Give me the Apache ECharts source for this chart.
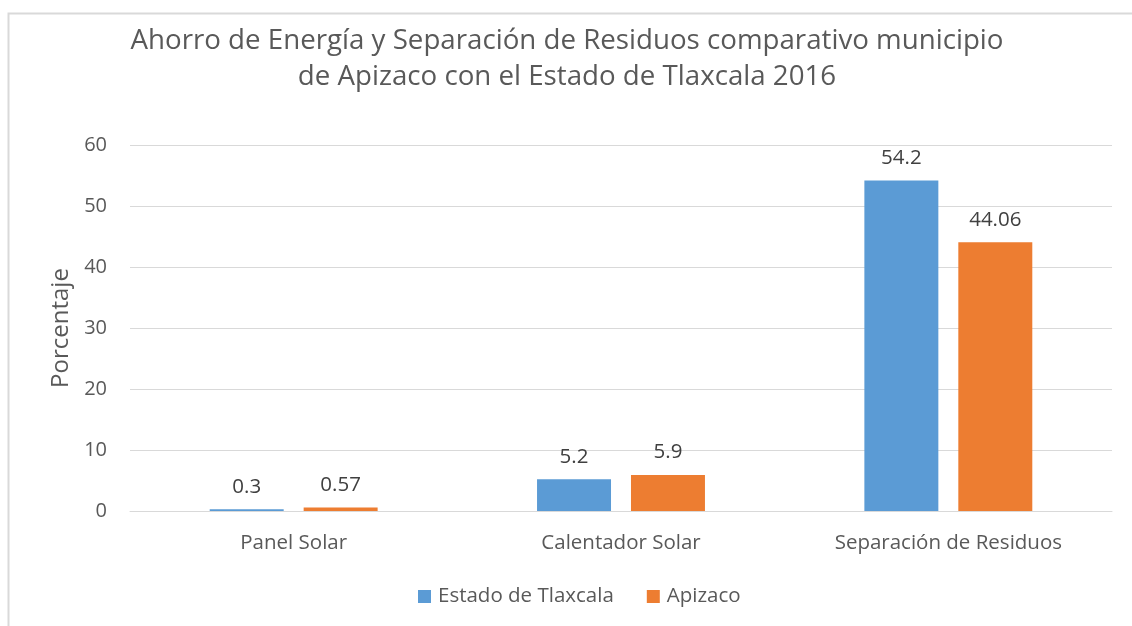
<!DOCTYPE html>
<html>
<head>
<meta charset="utf-8">
<script src="https://cdn.jsdelivr.net/npm/echarts@6/dist/echarts.min.js"></script>
<style>
  html, body { margin: 0; padding: 0; background: #ffffff; }
  #chart { width: 1132px; height: 626px; }
</style>
</head>
<body>
<div id="chart"></div>
<script>
// Categories and values (percent)
const categories = ['Panel Solar', 'Calentador Solar', 'Separación de Residuos'];
const estadoTlaxcala = [0.3, 5.2, 54.2];
const apizaco = [0.57, 5.9, 44.06];
const yTicks = [0, 10, 20, 30, 40, 50, 60];

const FONT = '"Open Sans", "Noto Sans", sans-serif';
const TXT = '#595959';

const chart = echarts.init(document.getElementById('chart'), null, { renderer: 'canvas' });

const labelStyle = {
  show: true,
  position: 'top',
  distance: 12,
  color: '#404040',
  fontSize: 20.5,
  fontFamily: FONT
};

chart.setOption({
  animation: false,
  backgroundColor: '#ffffff',
  graphic: [{
    type: 'rect',
    shape: { x: 8.5, y: 13.5, width: 1140, height: 640 },
    style: { fill: 'none', stroke: '#d9d9d9', lineWidth: 2 },
    silent: true
  }],
  title: {
    text: 'Ahorro de Energía y Separación de Residuos comparativo municipio\nde Apizaco con el Estado de Tlaxcala 2016',
    left: 562,
    top: 18,
    textAlign: 'center',
    textStyle: {
      color: TXT,
      fontSize: 27.7,
      fontWeight: 'normal',
      fontFamily: FONT,
      lineHeight: 36
    }
  },
  legend: {
    bottom: 14,
    left: 413,
    itemWidth: 13,
    itemHeight: 13,
    itemGap: 33,
    icon: 'rect',
    textStyle: { color: TXT, fontSize: 20.5, fontFamily: FONT, padding: [0, 0, 0, 2] },
    data: ['Estado de Tlaxcala', 'Apizaco']
  },
  grid: {
    left: 130,
    right: 20,
    top: 145,
    bottom: 115
  },
  xAxis: {
    type: 'category',
    data: categories,
    axisLine: { show: true, lineStyle: { color: '#d9d9d9', width: 1 } },
    axisTick: { show: false },
    axisLabel: { color: TXT, fontSize: 20.5, fontFamily: FONT, margin: 22 }
  },
  yAxis: {
    type: 'value',
    min: yTicks[0],
    max: yTicks[yTicks.length - 1],
    interval: 10,
    name: 'Porcentaje',
    nameLocation: 'middle',
    nameGap: 56,
    nameRotate: 90,
    nameTextStyle: { color: TXT, fontSize: 24, fontFamily: FONT },
    axisLine: { show: false },
    axisTick: { show: false },
    axisLabel: { color: TXT, fontSize: 20, fontFamily: FONT, margin: 23 },
    splitLine: { lineStyle: { color: '#d9d9d9', width: 1 } }
  },
  series: [
    {
      name: 'Estado de Tlaxcala',
      type: 'bar',
      data: estadoTlaxcala,
      barWidth: '22.6%',
      barGap: '27%',
      itemStyle: { color: '#5b9bd5' },
      label: labelStyle
    },
    {
      name: 'Apizaco',
      type: 'bar',
      data: apizaco,
      barWidth: '22.6%',
      itemStyle: { color: '#ed7d31' },
      label: labelStyle
    }
  ]
});
</script>
</body>
</html>
